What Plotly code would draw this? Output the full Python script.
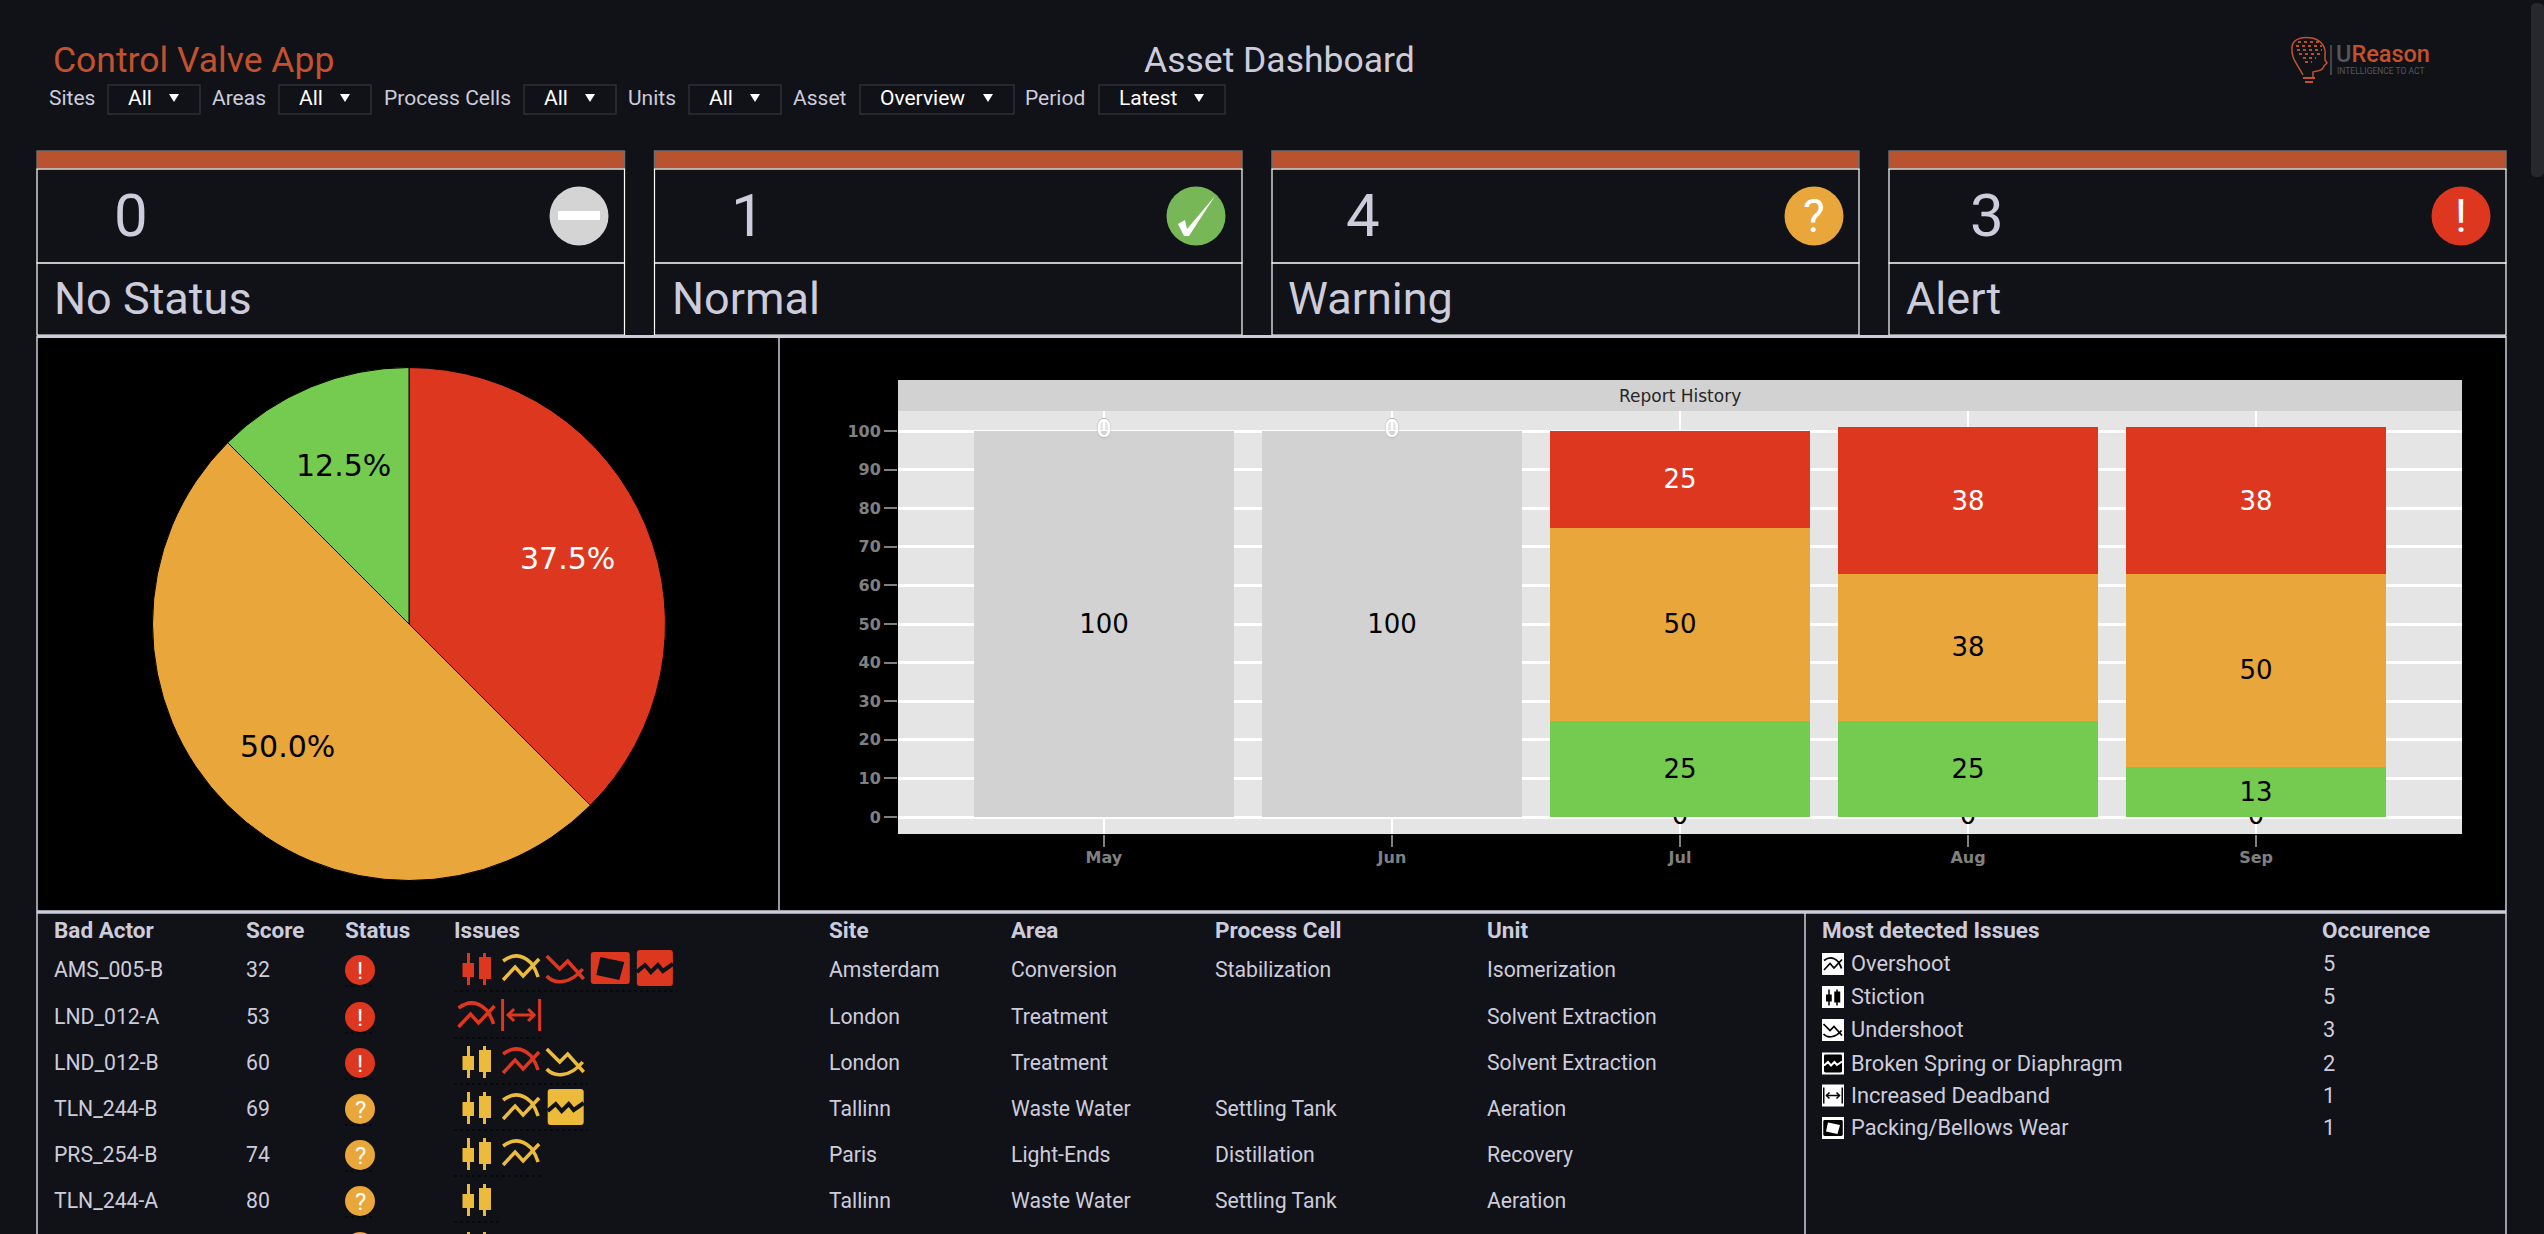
import math
import re
import plotly.graph_objects as go

W = 2544
H = 1234

BG = "#111217"
TEXT = "#ccccdc"
ORANGE_H = "#b9522e"
RED = "#de3720"
AMBER = "#e9a63a"
GREEN = "#74cb50"
GREY = "#d2d2d2"
YELLOW = "#ecbb3c"

# cards
card_labels = ["No Status", "Normal", "Warning", "Alert"]
card_counts = [0, 1, 4, 3]

# pie
pie_labels = ["Alert", "Warning", "Normal"]
pie_values = [3, 4, 1]
pie_colors = [RED, AMBER, GREEN]
pie_text_colors = ["white", "black", "black"]

# report history
months = ["May", "Jun", "Jul", "Aug", "Sep"]
no_status = [100, 100, 0, 0, 0]
normal = [0, 0, 25, 25, 13]
warning = [0, 0, 50, 38, 50]
alert = [0, 0, 25, 38, 38]
y_ticks = [0, 10, 20, 30, 40, 50, 60, 70, 80, 90, 100]

# bad actors table
actors = ["AMS_005-B", "LND_012-A", "LND_012-B", "TLN_244-B", "PRS_254-B", "TLN_244-A"]
scores = [32, 53, 60, 69, 74, 80]
status = ["alert", "alert", "alert", "warning", "warning", "warning"]
sites = ["Amsterdam", "London", "London", "Tallinn", "Paris", "Tallinn"]
areas = ["Conversion", "Treatment", "Treatment", "Waste Water", "Light-Ends", "Waste Water"]
cells = ["Stabilization", "", "", "Settling Tank", "Distillation", "Settling Tank"]
units = ["Isomerization", "Solvent Extraction", "Solvent Extraction", "Aeration", "Recovery", "Aeration"]
issues = [
    [("stiction", RED), ("overshoot", YELLOW), ("undershoot", RED), ("packing", RED), ("broken", RED)],
    [("overshoot", RED), ("deadband", RED)],
    [("stiction", YELLOW), ("overshoot", RED), ("undershoot", YELLOW)],
    [("stiction", YELLOW), ("overshoot", YELLOW), ("broken", YELLOW)],
    [("stiction", YELLOW), ("overshoot", YELLOW)],
    [("stiction", YELLOW)],
]

# most detected
top_issues = ["Overshoot", "Stiction", "Undershoot", "Broken Spring or Diaphragm", "Increased Deadband", "Packing/Bellows Wear"]
top_icons = ["overshoot", "stiction", "undershoot", "broken", "deadband", "packing"]
top_counts = [5, 5, 3, 2, 1, 1]

shapes = []
notes = []


def fx(x):
    return x / W


def fy(y):
    return 1 - (y + 1) / H


def rect(x0, y0, x1, y1, fill=None, line=None, lw=1, layer="below"):
    shapes.append(dict(type="rect", xref="paper", yref="paper", x0=fx(x0), x1=fx(x1), y0=fy(y0), y1=fy(y1),
                       fillcolor=fill if fill else "rgba(0,0,0,0)",
                       line=dict(color=line if line else "rgba(0,0,0,0)", width=lw if line else 0), layer=layer))


def line(x0, y0, x1, y1, color=TEXT, lw=1.5, dash="solid"):
    shapes.append(dict(type="line", xref="paper", yref="paper", x0=fx(x0), x1=fx(x1), y0=fy(y0), y1=fy(y1),
                       line=dict(color=color, width=lw, dash=dash), layer="below"))


def circle(cx, cy, r, fill):
    shapes.append(dict(type="circle", xref="paper", yref="paper", x0=fx(cx - r), x1=fx(cx + r), y0=fy(cy - r), y1=fy(cy + r),
                       fillcolor=fill, line=dict(width=0), layer="below"))


def path(d, cx=0, cy=0, s=1, fill=None, stroke=None, lw=1, dash="solid"):
    # d is written in pixels around (cx, cy), it is turned into paper fractions here
    def conv(m):
        return f"{fx(cx + float(m.group(1)) * s):.5f},{fy(cy + float(m.group(2)) * s):.5f}"
    shapes.append(dict(type="path", xref="paper", yref="paper", path=re.sub(r"(-?[\d.]+),(-?[\d.]+)", conv, d),
                       fillcolor=fill if fill else "rgba(0,0,0,0)",
                       line=dict(color=stroke if stroke else "rgba(0,0,0,0)", width=lw if stroke else 0, dash=dash), layer="below"))


def text(x, y, s, size=21, color=TEXT, anchor="left", family="Roboto", weight=None):
    if anchor == "left":
        x -= 1
    notes.append(dict(xref="paper", yref="paper", x=fx(x), y=fy(y + 0.5), text=s, showarrow=False, xanchor=anchor, yanchor="middle",
                      borderpad=0, font=dict(family=family, size=size, color=color, weight=weight)))


def icon(name, cx, cy, color, s=1.0, bg=BG):
    if name == "stiction":
        path("M-9.5,-15 L-6.5,-15 L-6.5,-5 L-2.5,-5 L-2.5,9 L-6.5,9 L-6.5,17 L-9.5,17 L-9.5,9 L-14,9 L-14,-5 L-9.5,-5 Z", cx, cy, s, fill=color)
        path("M6.5,-15 L9.5,-15 L9.5,-11 L14.5,-11 L14.5,11 L9.5,11 L9.5,17 L6.5,17 L6.5,11 L2.5,11 L2.5,-11 L6.5,-11 Z", cx, cy, s, fill=color)
    elif name == "overshoot":
        path("M-18,-7 C-10,-13 0,-15 10,-5 Q15,2 17,9", cx, cy, s, stroke=color, lw=3.5 * s)
        path("M-18,12 L-6,-1 L2,8 L18,-9", cx, cy, s, stroke=color, lw=3.5 * s)
    elif name == "undershoot":
        path("M-19,8 C-12,16 4,17 17,1", cx, cy, s, stroke=color, lw=3.5 * s)
        path("M-19,-12 L-6,1 L2,-7 L18,11", cx, cy, s, stroke=color, lw=3.5 * s)
    elif name == "packing":
        path("M-16.5,-16 L16.5,-16 Q19.5,-16 19.5,-13 L19.5,13 Q19.5,16 16.5,16 L-16.5,16 Q-19.5,16 -19.5,13 L-19.5,-13 Q-19.5,-16 -16.5,-16 Z", cx, cy, s, fill=color)
        path("M-10,-11 L14,-6 L9,12 L-14,7 Z", cx, cy, s, fill=bg)
    elif name == "broken":
        path("M-15,-18 L15,-18 Q18,-18 18,-15 L18,15 Q18,18 15,18 L-15,18 Q-18,18 -18,15 L-18,-15 Q-18,-18 -15,-18 Z", cx, cy, s, fill=color)
        path("M-18,4 L-10,-3 L-4,4 L3,-3 L8,3 L18,-4", cx, cy, s, stroke=bg, lw=4 * s)
    elif name == "deadband":
        path("M-18.5,-16 L-18.5,16", cx, cy, s, stroke=color, lw=3 * s)
        path("M18.5,-16 L18.5,16", cx, cy, s, stroke=color, lw=3 * s)
        path("M-13,0 L13,0", cx, cy, s, stroke=color, lw=3 * s)
        path("M-7,-6 L-13,0 L-7,6", cx, cy, s, stroke=color, lw=3 * s)
        path("M7,-6 L13,0 L7,6", cx, cy, s, stroke=color, lw=3 * s)


# header
text(53, 59, "Control Valve App", 35.5, "#c4512d")
text(1279, 58, "Asset Dashboard", 35.5, TEXT, anchor="center")

filter_labels = ["Sites", "Areas", "Process Cells", "Units", "Asset", "Period"]
filter_values = ["All", "All", "All", "All", "Overview", "Latest"]
label_x = [49, 212, 384, 628, 793, 1025]
box_x = [(108, 200), (279, 371), (524, 616), (689, 781), (860, 1014), (1099, 1225)]
for lab, val, lx, (b0, b1) in zip(filter_labels, filter_values, label_x, box_x):
    text(lx, 97, lab, 21, TEXT)
    rect(b0, 84, b1, 113, line="#2c2f36", lw=1.5)
    text(b0 + 20, 97, val, 21, "#ffffff")
    path("M-5,-4 L5,-4 L0,4 Z", b1 - 26, 97, fill="#ffffff")

# logo
path("M2303,74 C2296,61 2291,57 2292,46 C2293,36 2305,36 2312,37 C2322,39 2326,47 2325,54 L2325,59 L2327,62 L2324,65 L2323,67 C2322,70 2316,70 2313,71 L2313,76",
     stroke="#c4512d", lw=1.5)
path("M2298,41 L2320,41 M2296,45 L2322,45 M2297,49 L2322,49 M2299,53 L2320,53 M2303,57 L2316,57 M2305,61 L2312,61",
     stroke="#b5502d", lw=2, dash="dot")
line(2303, 77, 2315, 77, "#c4512d", 2)
line(2305, 81, 2313, 81, "#c4512d", 2)
line(2331, 44, 2331, 74, "#55575c", 1.5)
notes.append(dict(xref="paper", yref="paper", x=fx(2335), y=fy(53), showarrow=False, xanchor="left", yanchor="middle", borderpad=0,
                  text="<span style='color:#55575c'>U</span>Reason", font=dict(family="Roboto", size=23.5, color="#c4512d", weight=500)))
text(2337, 69, "INTELLIGENCE TO ACT", 8.5, "#55575c")

# scrollbar
path("M2531,7 Q2531,2 2537,2 Q2544,2 2544,7 L2544,171 Q2544,176 2537,176 Q2531,176 2531,171 Z", fill="#26282e")

# cards
card_x = [(37, 624.5), (654.5, 1242), (1272, 1859), (1889, 2506)]
num_x = [131, 748, 1363, 1987]
lab_x = [53.5, 671.5, 1288, 1906]
dot_x = [579, 1196, 1814, 2461]
dot_c = ["#d4d4d4", "#78b757", AMBER, RED]
for i in range(4):
    x0, x1 = card_x[i]
    rect(x0, 150, x1, 168, fill=ORANGE_H, line="#6e6e6e", lw=1.5)
    rect(x0, 168, x1, 262, line="#ffffff", lw=1.2)
    rect(x0, 262, x1, 334, line="#ffffff", lw=1.2)
    text(num_x[i], 214, str(card_counts[i]), 60, TEXT, anchor="center")
    text(lab_x[i], 297, card_labels[i], 45, TEXT)
    circle(dot_x[i], 215, 29.5, dot_c[i])
rect(558, 210, 600, 219, fill="#ffffff")
path("M-18,8 L-11,4 L-9,13 L19,-20 L-7,20 L-12,20 Z", 1196, 215, fill="#ffffff")
text(1814, 214, "?", 46, "#ffffff", anchor="center")
text(2461, 214, "!", 46, "#ffffff", anchor="center")

# panels
rect(37, 337, 779, 909, fill="#000000")
rect(779, 337, 2506, 909, fill="#000000")
rect(898, 410, 2462, 833, fill="#e5e5e5")
line(37, 335.5, 2506, 335.5, TEXT, 3)
line(37, 335, 37, 1234, TEXT, 1.5)
line(779, 335, 779, 909, TEXT, 1.5)
line(2506, 335, 2506, 1234, TEXT, 1.5)
line(37, 911, 2506, 911, TEXT, 3.5)
line(1805, 911, 1805, 1234, TEXT, 1.5)

# report history strip
rect(898, 379, 2462, 410, fill=GREY)
text(1680, 394, "Report History", 17, "#262626", anchor="center", family="DejaVu Sans")

# pie labels, placed the way the pie slices fall
pie_cx = 409
pie_cy = 623
pie_r = 256.5
total = sum(pie_values)
run = 0
for val, col in zip(pie_values, pie_text_colors):
    pct = val / total
    a = run + pct / 2
    run += pct
    lx = pie_cx + 0.67 * pie_r * math.sin(a * 2 * math.pi)
    ly = pie_cy - 0.67 * pie_r * math.cos(a * 2 * math.pi)
    text(lx, ly, f"{pct * 100:.1f}%", 30, col, anchor="center", family="DejaVu Sans")

# bad actors table
headers = ["Bad Actor", "Score", "Status", "Issues", "Site", "Area", "Process Cell", "Unit"]
col_x = [54, 246, 345, 454, 829, 1011, 1214.5, 1487]
for h, x in zip(headers, col_x):
    text(x, 928, h, 22.5, TEXT, weight="bold")
row_y = [968, 1015, 1061, 1107, 1153, 1199]
for i, y in enumerate(row_y):
    row = [actors[i], str(scores[i]), None, None, sites[i], areas[i], cells[i], units[i]]
    for val, x in zip(row, col_x):
        if val:
            text(x, y, val, 21.2, TEXT)
    col = RED if status[i] == "alert" else AMBER
    circle(360, y + 1, 15, col)
    text(360, y + 1, "!" if status[i] == "alert" else "?", 24, "#ffffff", anchor="center")
    line(345, y + 17, 375, y + 17, "#000000", 1, "dot")
    for k, (name, c) in enumerate(issues[i]):
        icon(name, 476.5 + k * 44.6, y - 1, c)
    line(454, y + 22, 454 + len(issues[i]) * 44.6, y + 22, "#000000", 1, "dot")
circle(360, 1246, 15, AMBER)
icon("stiction", 476.5, 1246, YELLOW)

# most detected table
text(1822, 928, "Most detected Issues", 22.5, TEXT, weight="bold")
text(2321.5, 928, "Occurence", 22.5, TEXT, weight="bold")
top_y = [962, 995, 1028, 1061.5, 1093.5, 1126]
for name, ic, n, y in zip(top_issues, top_icons, top_counts, top_y):
    rect(1822, y - 10, 1844, y + 12, fill="#ffffff")
    icon(ic, 1833, y + 1, "#000000", 0.5, bg="#ffffff")
    text(1851, y, name, 21.8, TEXT)
    text(2322.5, y, str(n), 21.8, TEXT)

fig = go.Figure()

# pie
fig.add_trace(go.Pie(labels=pie_labels, values=pie_values, sort=False, direction="clockwise", rotation=0,
                     marker=dict(colors=pie_colors, line=dict(color="black", width=1)),
                     textinfo="none", showlegend=False,
                     domain=dict(x=[fx(pie_cx - pie_r), fx(pie_cx + pie_r)], y=[fy(pie_cy + pie_r), fy(pie_cy - pie_r)])))

# zero labels that sit behind the bars live on the base axes
series = [no_status, normal, warning, alert]
under_x, under_y = [], []
over_x, over_y = [], []
base = [0] * len(months)
for s in series:
    for i, v in enumerate(s):
        if v == 0:
            if base[i] == 0:
                under_x.append(months[i])
                under_y.append(base[i])
            elif months[i] not in over_x:
                over_x.append(months[i])
                over_y.append(base[i])
        base[i] += v
fig.add_trace(go.Scatter(x=under_x, y=under_y, mode="text", text=["0"] * len(under_x), textposition="middle center",
                         textfont=dict(family="DejaVu Sans", size=26, color="black"), xaxis="x", yaxis="y", showlegend=False))

bar_colors = [GREY, GREEN, AMBER, RED]
bar_names = ["No Status", "Normal", "Warning", "Alert"]
bar_text = ["black", "black", "black", "white"]
for s, c, n, t in zip(series, bar_colors, bar_names, bar_text):
    fig.add_trace(go.Bar(x=months, y=s, name=n, marker=dict(color=c, line=dict(width=0)),
                         text=[str(v) if v else "" for v in s], textposition="inside", insidetextanchor="middle",
                         textangle=0, constraintext="none",
                         insidetextfont=dict(family="DejaVu Sans", size=26, color=t),
                         xaxis="x2", yaxis="y2", showlegend=False))
fig.add_trace(go.Scatter(x=over_x, y=over_y, mode="text", text=["0"] * len(over_x), textposition="middle center",
                         textfont=dict(family="DejaVu Sans", size=27, color="#b8b8b8"), xaxis="x2", yaxis="y2", showlegend=False))
fig.add_trace(go.Scatter(x=over_x, y=over_y, mode="text", text=["0"] * len(over_x), textposition="middle center",
                         textfont=dict(family="DejaVu Sans", size=25, color="white"), xaxis="x2", yaxis="y2", showlegend=False))

x_range = [-0.715, 4.715]
y_range = [-4.4, 105.2]
dom_x = [fx(898), fx(2462)]
dom_y = [fy(833), fy(410)]

fig.update_layout(
    width=W, height=H, margin=dict(l=0, r=0, t=0, b=0), autosize=False,
    paper_bgcolor=BG, plot_bgcolor="#e5e5e5", barmode="stack", bargap=0.1,
    shapes=shapes, annotations=notes, showlegend=False,
    xaxis=dict(domain=dom_x, range=x_range, type="category", categoryorder="array", categoryarray=months,
               anchor="y", showgrid=True, gridcolor="white", gridwidth=1.5, zeroline=False, showline=False,
               ticks="outside", ticklen=12, tickwidth=1.5, tickcolor="#808080", ticklabelstandoff=-3,
               tickfont=dict(family="DejaVu Sans", size=16, color="#808080", weight="bold")),
    yaxis=dict(domain=dom_y, range=y_range, anchor="x", tickvals=y_ticks, showgrid=True, gridcolor="white", gridwidth=2.5,
               zeroline=False, showline=False, ticks="outside", ticklen=13, tickwidth=1.5, tickcolor="#808080",
               tickfont=dict(family="DejaVu Sans", size=16, color="#808080", weight="bold")),
    xaxis2=dict(domain=dom_x, range=x_range, type="category", categoryorder="array", categoryarray=months,
                overlaying="x", anchor="y2", visible=False),
    yaxis2=dict(domain=dom_y, range=y_range, overlaying="y", anchor="x2", visible=False),
)

fig.write_html("out.html", config={"displayModeBar": False},
               post_script="document.body.style.margin='0';document.body.style.overflow='hidden';")
